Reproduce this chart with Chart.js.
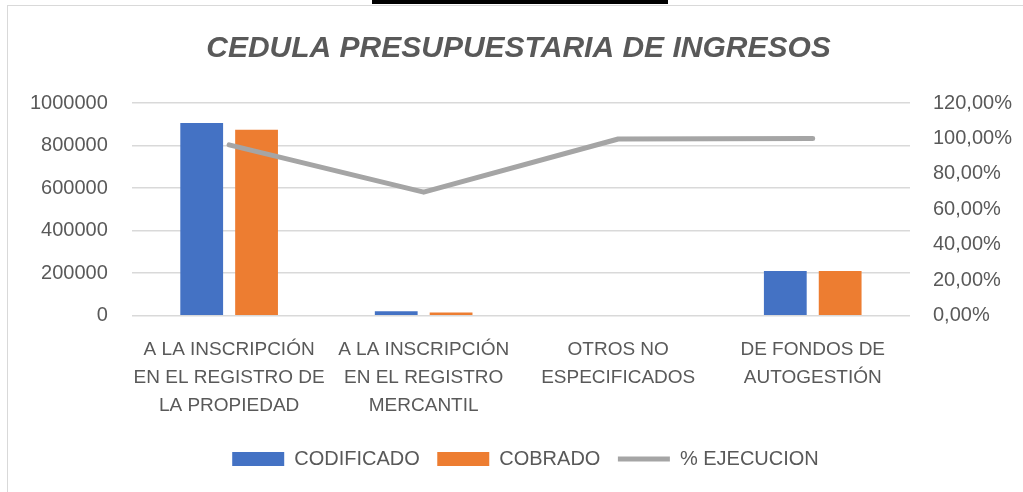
<!DOCTYPE HTML>
<html>
<head>
   <title>Cedula presupuestaria de ingresos</title>
   <script src="https://cdn.jsdelivr.net/npm/chart.js"></script>
   <style>
     body { margin: 0; background: #ffffff; }
     #topbar { position: absolute; left: 372px; top: 0; width: 296px; height: 4px; background: #000; }
     #frame { position: absolute; left: 7px; top: 5px; width: 1030px; height: 500px; border: 1px solid #D9D9D9; background: #fff; }
     #box { position: absolute; left: 0; top: 6px; width: 1023px; height: 486px; }
   </style>
</head>
<body>
   <div id="topbar"></div>
   <div id="frame"></div>
   <div id="box"><canvas id="myChart"></canvas></div>

<script type="text/javascript">
  // data
  var categorias = [
    ["A LA INSCRIPCIÓN", "EN EL REGISTRO DE", "LA PROPIEDAD"],
    ["A LA INSCRIPCIÓN", "EN EL REGISTRO", "MERCANTIL"],
    ["OTROS NO", "ESPECIFICADOS"],
    ["DE FONDOS DE", "AUTOGESTIÓN"]
  ];
  var codificado = [905800, 21000, 0, 210400];
  var cobrado    = [874300, 14600, 0, 210400];
  var ejecucion  = [0.964, 0.697, 0.997, 1.0];

  var gris = '#595959';
  var fuente = 'Liberation Sans, Arial, sans-serif';

  // title and legend sit a bit right of the plot centre in the original
  var corrimiento = {
    id: 'corrimiento',
    afterLayout: function (chart) {
      chart.titleBlock.left += 16;
      chart.legend.left += 30;
    }
  };

  const ctx = document.getElementById('myChart');
  var myChart = new Chart(ctx, {
    type: 'bar',
    data: {
      labels: categorias,
      datasets: [
        {
          label: 'CODIFICADO',
          data: codificado,
          backgroundColor: '#4472C4',
          categoryPercentage: 0.564,
          barPercentage: 0.78,
          pointStyle: 'rect',
          yAxisID: 'y',
          order: 2
        },
        {
          label: 'COBRADO',
          data: cobrado,
          backgroundColor: '#ED7D31',
          categoryPercentage: 0.564,
          barPercentage: 0.78,
          pointStyle: 'rect',
          yAxisID: 'y',
          order: 2
        },
        {
          type: 'line',
          label: '% EJECUCION',
          data: ejecucion,
          borderColor: '#A5A5A5',
          backgroundColor: '#A5A5A5',
          borderWidth: 5,
          borderCapStyle: 'round',
          borderJoinStyle: 'round',
          pointRadius: 0,
          pointStyle: 'line',
          tension: 0,
          yAxisID: 'y1',
          order: 1
        }
      ]
    },
    options: {
      responsive: true,
      maintainAspectRatio: false,
      animation: false,
      layout: { padding: { left: 6, right: 8, top: 0, bottom: 13 } },
      scales: {
        x: {
          grid: { display: false },
          border: { display: false },
          afterFit: function (scale) { scale.paddingLeft = 0; scale.paddingRight = 0; },
          ticks: {
            color: gris, autoSkip: false, maxRotation: 0, padding: 12,
            font: { family: fuente, size: 19, lineHeight: 1.47 }
          }
        },
        y: {
          position: 'left',
          min: 0, max: 1000000,
          grid: { color: '#D9D9D9', lineWidth: 1.5, drawTicks: false },
          border: { display: false },
          ticks: {
            stepSize: 200000, color: gris, padding: 24,
            font: { family: fuente, size: 20 },
            callback: function (v) { return String(v); }
          }
        },
        y1: {
          position: 'right',
          min: 0, max: 1.2,
          grid: { display: false, drawTicks: false },
          border: { display: false },
          afterFit: function (scale) { scale.width = 105; },
          ticks: {
            stepSize: 0.2, color: gris, padding: 23,
            font: { family: fuente, size: 20 },
            callback: function (v) { return (v * 100).toFixed(2).replace('.', ',') + '%'; }
          }
        }
      },
      plugins: {
        title: {
          display: true,
          text: 'CEDULA PRESUPUESTARIA DE INGRESOS',
          color: gris,
          font: { family: fuente, size: 30, weight: 'bold', style: 'italic' },
          padding: { top: 25, bottom: 36 }
        },
        legend: {
          position: 'bottom',
          labels: {
            usePointStyle: true,
            pointStyleWidth: 52,
            boxHeight: 14,
            padding: 17.5,
            color: gris,
            font: { family: fuente, size: 20 },
            sort: function (a, b) { return a.datasetIndex - b.datasetIndex; }
          }
        },
        tooltip: { enabled: false }
      }
    },
    plugins: [corrimiento]
  });
</script>
</body>
</html>
